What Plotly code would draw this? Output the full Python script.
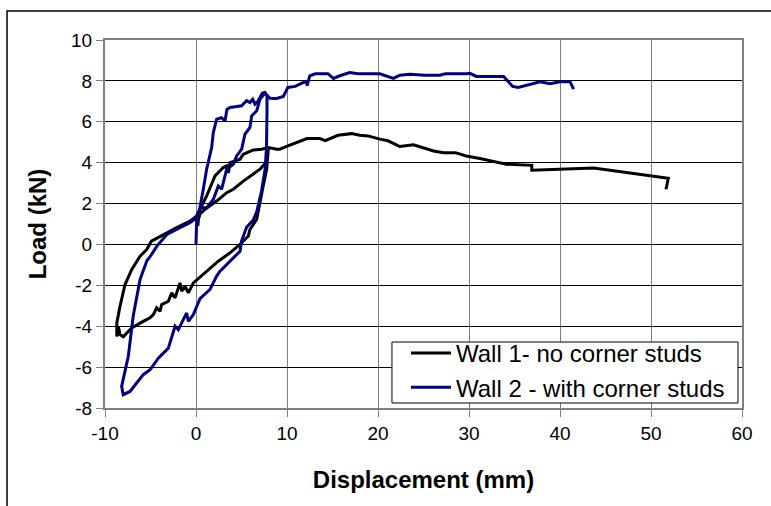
import plotly.graph_objects as go

# Wall 1 - no corner studs (displacement mm, load kN)
wall1_x = [0.2, 0.26, 0.44, 0.99, 2.27, 3.37, 4.1, 5.2, 7.03, 7.8, 7.95,
           7.77, 7.4, 7.03, 6.67, 5.93, 5.75, 4.84, 3.74, 2.45, 1.17, 0.26, -0.29,
           -0.84, -1.21, -1.57, -1.76, -2.3, -2.67, -3.04, -3.77, -3.96, -4.32, -4.69,
           -5.05, -5.8, -6.5, -7.07, -7.99, -8.35, -8.53, -8.7, -8.7,
           -8.35, -7.8, -7.07, -6.15, -5.42, -4.9, -3.59, -2.12, -0.66, 0.07,
           0.44, 1.17, 2.09, 3.0, 3.37, 3.55, 3.74, 4.84, 5.2, 6.1, 6.3, 7.2, 7.95,
           8.87, 9.2, 10.1, 11.1, 12.2, 13.6, 14.2, 15.6, 17.1, 18.0, 18.9, 20.2,
           21.1, 22.4, 23.9, 26.1, 27.2, 28.5, 29.7, 31.2, 34.1, 36.9, 36.9, 43.7,
           49.9, 51.9, 51.65]
wall1_y = [0.9, 1.2, 1.5, 1.72, 2.12, 2.53, 2.7, 3.1, 3.68, 4.05, 4.7,
           3.68, 2.9, 2.04, 1.23, 0.74, 0.41, 0.0, -0.41, -0.82, -1.31, -1.63, -1.88,
           -2.37, -2.04, -2.29, -1.88, -2.61, -2.37, -2.78, -2.94, -3.27, -3.1, -3.43,
           -3.59, -3.76, -3.92, -4.08, -4.52, -4.41, -4.0, -4.5, -3.84,
           -3.02, -1.96, -1.23, -0.57, -0.25, 0.16, 0.49, 0.82, 1.14, 1.39,
           1.72, 2.37, 3.35, 3.76, 3.84, 3.5, 4.0, 4.17, 4.41, 4.57, 4.62, 4.66, 4.74,
           4.66, 4.66, 4.82, 4.98, 5.18, 5.18, 5.08, 5.34, 5.42, 5.34, 5.31, 5.15,
           5.07, 4.79, 4.87, 4.57, 4.49, 4.49, 4.33, 4.2, 3.92, 3.87, 3.63, 3.74,
           3.35, 3.24, 2.70]

# Wall 2 - with corner studs
wall2_x = [0.0, 0.02, 0.07, 0.3, 0.44, 0.8, 1.17, 1.5, 1.72, 1.9, 2.27, 2.8, 3.19,
           3.4, 3.74, 4.5, 5.0, 5.57, 5.93, 6.23, 6.48, 6.8, 7.03, 7.3, 7.58, 7.8,
           7.8, 7.75, 7.6, 7.2, 6.67, 6.3, 5.57, 5.0, 4.84, 3.74, 2.64, 2.27, 1.54,
           1.17, 0.44, -0.29, -0.84, -1.03, -1.94, -2.3, -2.67, -3.04, -4.14, -5.05,
           -5.8, -7.25, -8.0, -8.17, -7.8, -7.44, -6.9, -6.15, -5.4, -5.05, -4.3,
           -3.2, -1.76, -0.66, 0.07, 0.44, 1.17, 1.9, 2.45, 2.82, 3.37, 4.1, 4.47,
           5.02, 5.38, 5.93, 6.12, 6.67, 7.03, 7.58, 8.13, 8.87, 9.6, 10.1, 10.9,
           11.8, 12.2, 12.2, 12.5, 13.1, 14.5, 15.1, 15.8, 16.9, 17.8, 20.2, 21.7,
           22.4, 23.5, 25.2, 26.8, 27.4, 29.7, 30.1, 30.8, 33.8, 34.8, 35.4, 37.8,
           38.9, 40.0, 41.1, 41.5]
wall2_y = [0.0, 0.6, 1.2, 1.5, 1.8, 2.7, 3.68, 4.3, 4.74, 5.47, 6.13, 6.2, 6.05,
           6.6, 6.7, 6.75, 6.78, 7.03, 6.94, 7.1, 6.86, 7.0, 7.19, 7.4, 7.43, 7.3,
           6.45, 4.8, 3.7, 2.6, 1.6, 1.2, 0.85, 0.16, -0.33, -0.82, -1.31, -1.55, -2.2,
           -2.35, -2.65, -3.43, -3.76, -3.35, -4.17, -4.0, -4.58, -5.07, -5.56, -6.13,
           -6.37, -7.19, -7.35, -6.94, -6.2, -5.47, -3.5, -1.72, -0.8, -0.6, -0.08,
           0.49, 0.82, 1.06, 1.31, 1.8, 1.8, 2.2, 2.86, 2.7, 3.68, 3.92, 4.33,
           4.66, 5.39, 5.72, 6.29, 6.54, 7.1, 7.4, 7.15, 7.14, 7.24, 7.68, 7.73,
           7.92, 7.96, 7.76, 8.25, 8.35, 8.35, 8.12, 8.25, 8.41, 8.35, 8.35, 8.12,
           8.28, 8.33, 8.28, 8.28, 8.35, 8.35, 8.37, 8.22, 8.22, 7.73, 7.68, 7.96,
           7.86, 7.96, 7.96, 7.6]

series_names = ["Wall 1- no corner studs", "Wall 2 - with corner studs"]
x_ticks = [-10, 0, 10, 20, 30, 40, 50, 60]
x_ticktext = ["-10", "0", "10", "20", "30", "40", "50", "60"]
y_ticks = [-8, -6, -4, -2, 0, 2, 4, 6, 8, 10]
y_ticktext = ["-8", "-6", "-4", "-2", "0", "2", "4", "6", "8", "10"]

FONT = "Arial, Liberation Sans, sans-serif"

fig = go.Figure()
fig.add_trace(go.Scatter(x=wall1_x, y=wall1_y, mode="lines", name=series_names[0],
                         line=dict(color="#000000", width=3)))
fig.add_trace(go.Scatter(x=wall2_x, y=wall2_y, mode="lines", name=series_names[1],
                         line=dict(color="#000080", width=3)))

fig.update_layout(
    width=771, height=506,
    margin=dict(l=105, r=29, t=40, b=98),
    paper_bgcolor="white", plot_bgcolor="white",
    font=dict(family=FONT, color="black", size=19),
    legend=dict(x=0.4725, y=0.102, xanchor="left", yanchor="middle",
                borderwidth=0, bgcolor="rgba(0,0,0,0)",
                font=dict(size=24, family=FONT), tracegroupgap=0,
                itemwidth=40),
    showlegend=True,
    shapes=[
        dict(type="rect", xref="paper", yref="paper",
             x0=-0.1538, x1=1.06, y0=-0.3, y1=1.0788,
             line=dict(color="black", width=1.5), layer="below"),
        # legend frame
        dict(type="rect", xref="paper", yref="paper",
             x0=0.4505, x1=0.9937, y0=0.0136, y1=0.1793,
             line=dict(color="black", width=1), fillcolor="white", layer="above"),
    ],
)
fig.update_xaxes(range=[-10, 60], tickvals=x_ticks, ticktext=x_ticktext, showgrid=True,
                 gridcolor="#808080", gridwidth=1, zeroline=False,
                 showline=True, linecolor="#808080", linewidth=2, mirror=True,
                 ticks="outside", ticklen=7, tickcolor="#808080",
                 title=dict(text="<b>Displacement (mm)</b>", font=dict(size=24), standoff=28))
fig.update_yaxes(range=[-8, 10], tickvals=y_ticks, ticktext=y_ticktext, showgrid=True,
                 gridcolor="#000000", gridwidth=1, zeroline=False,
                 showline=True, linecolor="#808080", linewidth=2, mirror=True,
                 ticks="outside", ticklen=7, tickcolor="#808080",
                 title=dict(text="<b>Load (kN)</b>", font=dict(size=24), standoff=18))

fig.write_html("out.html")
